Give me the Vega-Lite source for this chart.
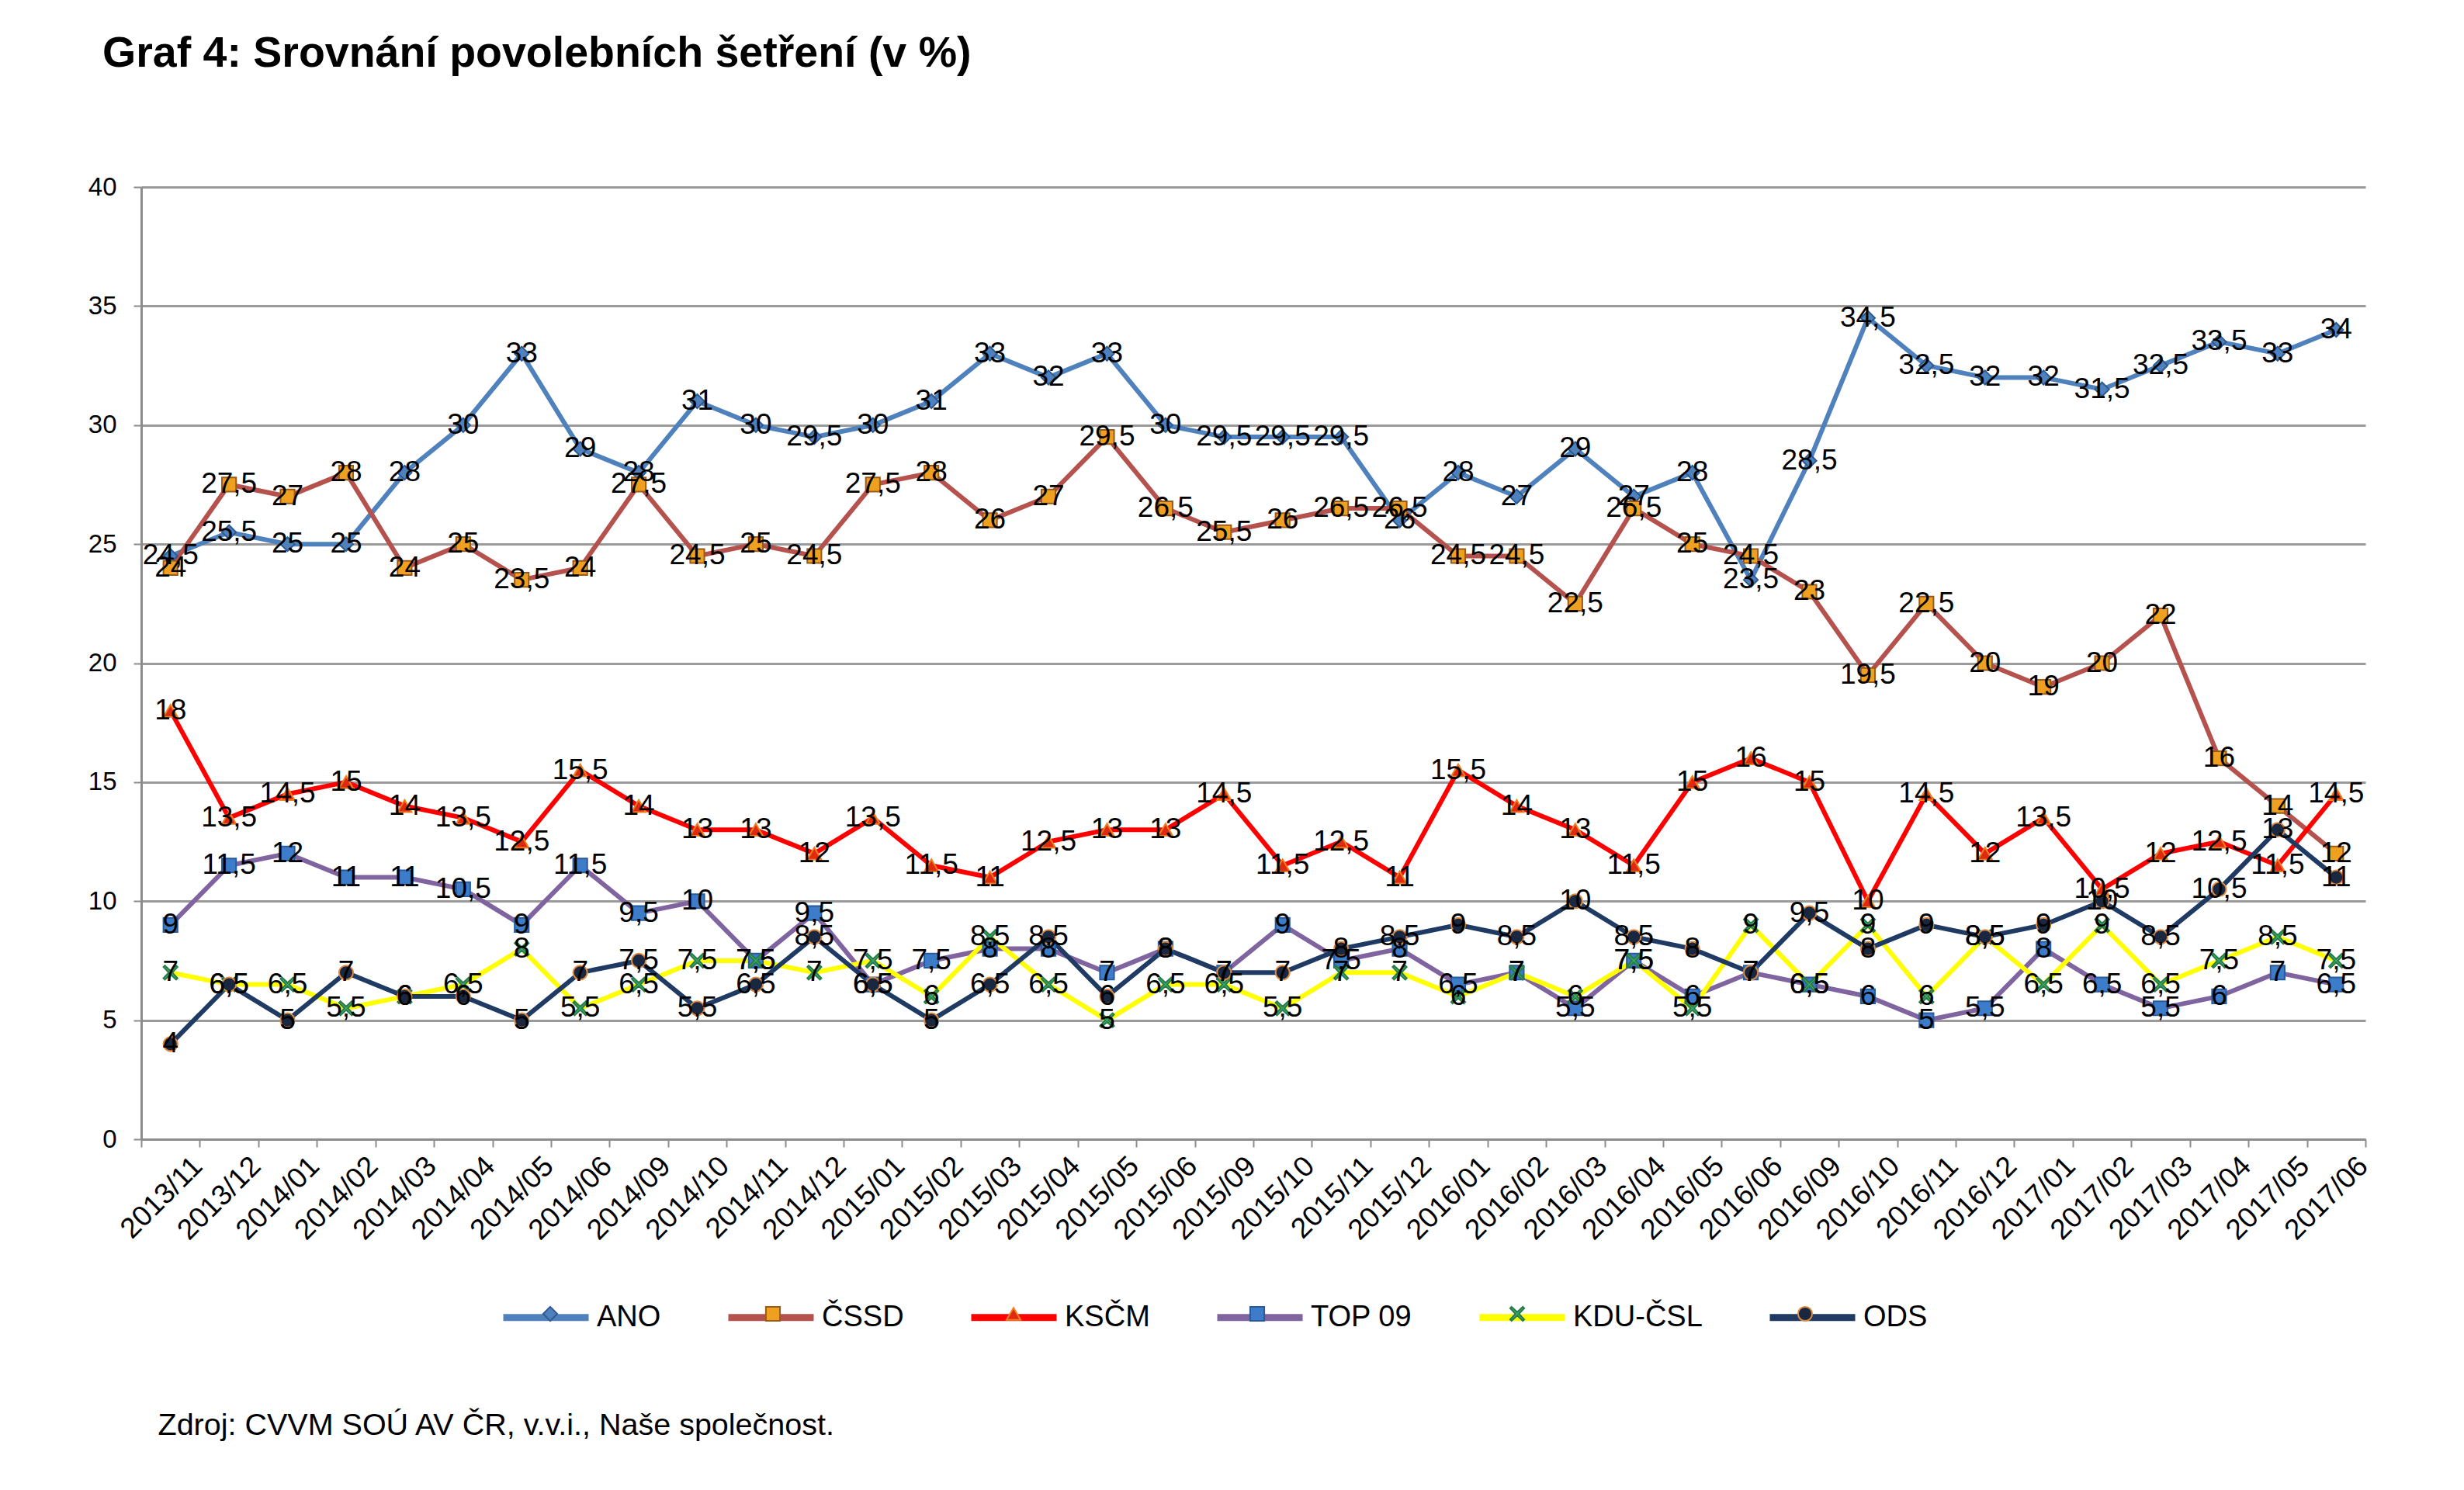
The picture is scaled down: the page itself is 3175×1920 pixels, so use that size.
{
  "$schema": "https://vega.github.io/schema/vega-lite/v6.json",
  "autosize": {"type": "none"},
  "width": 2866,
  "height": 1227,
  "padding": {"left": 182, "top": 241, "right": 127, "bottom": 452},
  "background": "white",
  "title": {
    "text": "Graf 4: Srovnání povolebních šetření (v %)",
    "anchor": "start",
    "frame": "group",
    "dx": -50,
    "offset": 128,
    "fontSize": 55.5,
    "fontWeight": "bold",
    "font": "Liberation Sans",
    "color": "#000000"
  },
  "config": {
    "font": "Liberation Sans",
    "locale": {"number": {"decimal": ",", "thousands": " ", "grouping": [3], "currency": ["", " Kč"]}},
    "view": {"stroke": null}
  },
  "data": {"values": [
    {"d":"2013/11","p":"ANO","v":24.5},{"d":"2013/12","p":"ANO","v":25.5},{"d":"2014/01","p":"ANO","v":25},{"d":"2014/02","p":"ANO","v":25},{"d":"2014/03","p":"ANO","v":28},{"d":"2014/04","p":"ANO","v":30},{"d":"2014/05","p":"ANO","v":33},{"d":"2014/06","p":"ANO","v":29},{"d":"2014/09","p":"ANO","v":28},{"d":"2014/10","p":"ANO","v":31},{"d":"2014/11","p":"ANO","v":30},{"d":"2014/12","p":"ANO","v":29.5},{"d":"2015/01","p":"ANO","v":30},{"d":"2015/02","p":"ANO","v":31},{"d":"2015/03","p":"ANO","v":33},{"d":"2015/04","p":"ANO","v":32},{"d":"2015/05","p":"ANO","v":33},{"d":"2015/06","p":"ANO","v":30},{"d":"2015/09","p":"ANO","v":29.5},{"d":"2015/10","p":"ANO","v":29.5},{"d":"2015/11","p":"ANO","v":29.5},{"d":"2015/12","p":"ANO","v":26},{"d":"2016/01","p":"ANO","v":28},{"d":"2016/02","p":"ANO","v":27},{"d":"2016/03","p":"ANO","v":29},{"d":"2016/04","p":"ANO","v":27},{"d":"2016/05","p":"ANO","v":28},{"d":"2016/06","p":"ANO","v":23.5},{"d":"2016/09","p":"ANO","v":28.5},{"d":"2016/10","p":"ANO","v":34.5},{"d":"2016/11","p":"ANO","v":32.5},{"d":"2016/12","p":"ANO","v":32},{"d":"2017/01","p":"ANO","v":32},{"d":"2017/02","p":"ANO","v":31.5},{"d":"2017/03","p":"ANO","v":32.5},{"d":"2017/04","p":"ANO","v":33.5},{"d":"2017/05","p":"ANO","v":33},{"d":"2017/06","p":"ANO","v":34},
    {"d":"2013/11","p":"ČSSD","v":24},{"d":"2013/12","p":"ČSSD","v":27.5},{"d":"2014/01","p":"ČSSD","v":27},{"d":"2014/02","p":"ČSSD","v":28},{"d":"2014/03","p":"ČSSD","v":24},{"d":"2014/04","p":"ČSSD","v":25},{"d":"2014/05","p":"ČSSD","v":23.5},{"d":"2014/06","p":"ČSSD","v":24},{"d":"2014/09","p":"ČSSD","v":27.5},{"d":"2014/10","p":"ČSSD","v":24.5},{"d":"2014/11","p":"ČSSD","v":25},{"d":"2014/12","p":"ČSSD","v":24.5},{"d":"2015/01","p":"ČSSD","v":27.5},{"d":"2015/02","p":"ČSSD","v":28},{"d":"2015/03","p":"ČSSD","v":26},{"d":"2015/04","p":"ČSSD","v":27},{"d":"2015/05","p":"ČSSD","v":29.5},{"d":"2015/06","p":"ČSSD","v":26.5},{"d":"2015/09","p":"ČSSD","v":25.5},{"d":"2015/10","p":"ČSSD","v":26},{"d":"2015/11","p":"ČSSD","v":26.5},{"d":"2015/12","p":"ČSSD","v":26.5},{"d":"2016/01","p":"ČSSD","v":24.5},{"d":"2016/02","p":"ČSSD","v":24.5},{"d":"2016/03","p":"ČSSD","v":22.5},{"d":"2016/04","p":"ČSSD","v":26.5},{"d":"2016/05","p":"ČSSD","v":25},{"d":"2016/06","p":"ČSSD","v":24.5},{"d":"2016/09","p":"ČSSD","v":23},{"d":"2016/10","p":"ČSSD","v":19.5},{"d":"2016/11","p":"ČSSD","v":22.5},{"d":"2016/12","p":"ČSSD","v":20},{"d":"2017/01","p":"ČSSD","v":19},{"d":"2017/02","p":"ČSSD","v":20},{"d":"2017/03","p":"ČSSD","v":22},{"d":"2017/04","p":"ČSSD","v":16},{"d":"2017/05","p":"ČSSD","v":14},{"d":"2017/06","p":"ČSSD","v":12},
    {"d":"2013/11","p":"KSČM","v":18},{"d":"2013/12","p":"KSČM","v":13.5},{"d":"2014/01","p":"KSČM","v":14.5},{"d":"2014/02","p":"KSČM","v":15},{"d":"2014/03","p":"KSČM","v":14},{"d":"2014/04","p":"KSČM","v":13.5},{"d":"2014/05","p":"KSČM","v":12.5},{"d":"2014/06","p":"KSČM","v":15.5},{"d":"2014/09","p":"KSČM","v":14},{"d":"2014/10","p":"KSČM","v":13},{"d":"2014/11","p":"KSČM","v":13},{"d":"2014/12","p":"KSČM","v":12},{"d":"2015/01","p":"KSČM","v":13.5},{"d":"2015/02","p":"KSČM","v":11.5},{"d":"2015/03","p":"KSČM","v":11},{"d":"2015/04","p":"KSČM","v":12.5},{"d":"2015/05","p":"KSČM","v":13},{"d":"2015/06","p":"KSČM","v":13},{"d":"2015/09","p":"KSČM","v":14.5},{"d":"2015/10","p":"KSČM","v":11.5},{"d":"2015/11","p":"KSČM","v":12.5},{"d":"2015/12","p":"KSČM","v":11},{"d":"2016/01","p":"KSČM","v":15.5},{"d":"2016/02","p":"KSČM","v":14},{"d":"2016/03","p":"KSČM","v":13},{"d":"2016/04","p":"KSČM","v":11.5},{"d":"2016/05","p":"KSČM","v":15},{"d":"2016/06","p":"KSČM","v":16},{"d":"2016/09","p":"KSČM","v":15},{"d":"2016/10","p":"KSČM","v":10},{"d":"2016/11","p":"KSČM","v":14.5},{"d":"2016/12","p":"KSČM","v":12},{"d":"2017/01","p":"KSČM","v":13.5},{"d":"2017/02","p":"KSČM","v":10.5},{"d":"2017/03","p":"KSČM","v":12},{"d":"2017/04","p":"KSČM","v":12.5},{"d":"2017/05","p":"KSČM","v":11.5},{"d":"2017/06","p":"KSČM","v":14.5},
    {"d":"2013/11","p":"TOP 09","v":9},{"d":"2013/12","p":"TOP 09","v":11.5},{"d":"2014/01","p":"TOP 09","v":12},{"d":"2014/02","p":"TOP 09","v":11},{"d":"2014/03","p":"TOP 09","v":11},{"d":"2014/04","p":"TOP 09","v":10.5},{"d":"2014/05","p":"TOP 09","v":9},{"d":"2014/06","p":"TOP 09","v":11.5},{"d":"2014/09","p":"TOP 09","v":9.5},{"d":"2014/10","p":"TOP 09","v":10},{"d":"2014/11","p":"TOP 09","v":7.5},{"d":"2014/12","p":"TOP 09","v":9.5},{"d":"2015/01","p":"TOP 09","v":6.5},{"d":"2015/02","p":"TOP 09","v":7.5},{"d":"2015/03","p":"TOP 09","v":8},{"d":"2015/04","p":"TOP 09","v":8},{"d":"2015/05","p":"TOP 09","v":7},{"d":"2015/06","p":"TOP 09","v":8},{"d":"2015/09","p":"TOP 09","v":7},{"d":"2015/10","p":"TOP 09","v":9},{"d":"2015/11","p":"TOP 09","v":7.5},{"d":"2015/12","p":"TOP 09","v":8},{"d":"2016/01","p":"TOP 09","v":6.5},{"d":"2016/02","p":"TOP 09","v":7},{"d":"2016/03","p":"TOP 09","v":5.5},{"d":"2016/04","p":"TOP 09","v":7.5},{"d":"2016/05","p":"TOP 09","v":6},{"d":"2016/06","p":"TOP 09","v":7},{"d":"2016/09","p":"TOP 09","v":6.5},{"d":"2016/10","p":"TOP 09","v":6},{"d":"2016/11","p":"TOP 09","v":5},{"d":"2016/12","p":"TOP 09","v":5.5},{"d":"2017/01","p":"TOP 09","v":8},{"d":"2017/02","p":"TOP 09","v":6.5},{"d":"2017/03","p":"TOP 09","v":5.5},{"d":"2017/04","p":"TOP 09","v":6},{"d":"2017/05","p":"TOP 09","v":7},{"d":"2017/06","p":"TOP 09","v":6.5},
    {"d":"2013/11","p":"KDU-ČSL","v":7},{"d":"2013/12","p":"KDU-ČSL","v":6.5},{"d":"2014/01","p":"KDU-ČSL","v":6.5},{"d":"2014/02","p":"KDU-ČSL","v":5.5},{"d":"2014/03","p":"KDU-ČSL","v":6},{"d":"2014/04","p":"KDU-ČSL","v":6.5},{"d":"2014/05","p":"KDU-ČSL","v":8},{"d":"2014/06","p":"KDU-ČSL","v":5.5},{"d":"2014/09","p":"KDU-ČSL","v":6.5},{"d":"2014/10","p":"KDU-ČSL","v":7.5},{"d":"2014/11","p":"KDU-ČSL","v":7.5},{"d":"2014/12","p":"KDU-ČSL","v":7},{"d":"2015/01","p":"KDU-ČSL","v":7.5},{"d":"2015/02","p":"KDU-ČSL","v":6},{"d":"2015/03","p":"KDU-ČSL","v":8.5},{"d":"2015/04","p":"KDU-ČSL","v":6.5},{"d":"2015/05","p":"KDU-ČSL","v":5},{"d":"2015/06","p":"KDU-ČSL","v":6.5},{"d":"2015/09","p":"KDU-ČSL","v":6.5},{"d":"2015/10","p":"KDU-ČSL","v":5.5},{"d":"2015/11","p":"KDU-ČSL","v":7},{"d":"2015/12","p":"KDU-ČSL","v":7},{"d":"2016/01","p":"KDU-ČSL","v":6},{"d":"2016/02","p":"KDU-ČSL","v":7},{"d":"2016/03","p":"KDU-ČSL","v":6},{"d":"2016/04","p":"KDU-ČSL","v":7.5},{"d":"2016/05","p":"KDU-ČSL","v":5.5},{"d":"2016/06","p":"KDU-ČSL","v":9},{"d":"2016/09","p":"KDU-ČSL","v":6.5},{"d":"2016/10","p":"KDU-ČSL","v":9},{"d":"2016/11","p":"KDU-ČSL","v":6},{"d":"2016/12","p":"KDU-ČSL","v":8.5},{"d":"2017/01","p":"KDU-ČSL","v":6.5},{"d":"2017/02","p":"KDU-ČSL","v":9},{"d":"2017/03","p":"KDU-ČSL","v":6.5},{"d":"2017/04","p":"KDU-ČSL","v":7.5},{"d":"2017/05","p":"KDU-ČSL","v":8.5},{"d":"2017/06","p":"KDU-ČSL","v":7.5},
    {"d":"2013/11","p":"ODS","v":4},{"d":"2013/12","p":"ODS","v":6.5},{"d":"2014/01","p":"ODS","v":5},{"d":"2014/02","p":"ODS","v":7},{"d":"2014/03","p":"ODS","v":6},{"d":"2014/04","p":"ODS","v":6},{"d":"2014/05","p":"ODS","v":5},{"d":"2014/06","p":"ODS","v":7},{"d":"2014/09","p":"ODS","v":7.5},{"d":"2014/10","p":"ODS","v":5.5},{"d":"2014/11","p":"ODS","v":6.5},{"d":"2014/12","p":"ODS","v":8.5},{"d":"2015/01","p":"ODS","v":6.5},{"d":"2015/02","p":"ODS","v":5},{"d":"2015/03","p":"ODS","v":6.5},{"d":"2015/04","p":"ODS","v":8.5},{"d":"2015/05","p":"ODS","v":6},{"d":"2015/06","p":"ODS","v":8},{"d":"2015/09","p":"ODS","v":7},{"d":"2015/10","p":"ODS","v":7},{"d":"2015/11","p":"ODS","v":8},{"d":"2015/12","p":"ODS","v":8.5},{"d":"2016/01","p":"ODS","v":9},{"d":"2016/02","p":"ODS","v":8.5},{"d":"2016/03","p":"ODS","v":10},{"d":"2016/04","p":"ODS","v":8.5},{"d":"2016/05","p":"ODS","v":8},{"d":"2016/06","p":"ODS","v":7},{"d":"2016/09","p":"ODS","v":9.5},{"d":"2016/10","p":"ODS","v":8},{"d":"2016/11","p":"ODS","v":9},{"d":"2016/12","p":"ODS","v":8.5},{"d":"2017/01","p":"ODS","v":9},{"d":"2017/02","p":"ODS","v":10},{"d":"2017/03","p":"ODS","v":8.5},{"d":"2017/04","p":"ODS","v":10.5},{"d":"2017/05","p":"ODS","v":13},{"d":"2017/06","p":"ODS","v":11}
  ]},
  "encoding": {
    "x": {
      "field": "d", "type": "ordinal", "sort": null, "bandPosition": 0.5,
      "scale": {"type": "band", "paddingInner": 0, "paddingOuter": 0},
      "axis": {
        "title": "Zdroj: CVVM SOÚ AV ČR, v.v.i., Naše společnost.",
        "titleX": 21, "titleY": 380, "titleAlign": "left", "titleAnchor": null,
        "titleBaseline": "alphabetic", "titleFontSize": 39.5, "titleFontWeight": "normal", "titleColor": "#000000",
        "labelAngle": -45, "labelFontSize": 37, "labelColor": "#000000", "labelPadding": 6, "labelOffset": 22,
        "tickBand": "extent", "tickSize": 10, "tickColor": "#8c8c8c", "tickWidth": 2,
        "domainColor": "#8c8c8c", "domainWidth": 3, "grid": false
      }
    },
    "y": {
      "field": "v", "type": "quantitative",
      "scale": {"domain": [0, 40], "nice": false, "zero": true},
      "axis": {
        "title": null, "values": [0, 5, 10, 15, 20, 25, 30, 35, 40],
        "labelFontSize": 33, "labelColor": "#000000", "labelPadding": 22,
        "tickSize": 10, "tickColor": "#8c8c8c", "tickWidth": 2,
        "domainColor": "#8c8c8c", "domainWidth": 3,
        "grid": true, "gridColor": "#9a9a9a", "gridWidth": 3
      }
    }
  },
  "layer": [
    {
      "mark": {"type": "line", "strokeWidth": 6, "strokeJoin": "miter"},
      "encoding": {
        "color": {
          "field": "p", "type": "nominal",
          "scale": {
            "domain": ["ANO", "ČSSD", "KSČM", "TOP 09", "KDU-ČSL", "ODS"],
            "range": ["#4F81BD", "#B5524E", "#FF0000", "#7F64A0", "#FFFF00", "#1F3A63"]
          },
          "legend": {
            "orient": "none", "legendX": 462, "legendY": 1397,
            "direction": "horizontal", "title": null,
            "symbolType": "stroke", "symbolSize": 12100, "symbolStrokeWidth": 9,
            "labelFontSize": 38, "labelColor": "#000000", "labelOffset": 6, "labelLimit": 500,
            "columnPadding": 68
          }
        }
      }
    },
    {
      "mark": {"type": "point", "filled": true, "size": 330, "opacity": 1, "strokeWidth": 2},
      "encoding": {
        "shape": {
          "field": "p", "type": "nominal",
          "scale": {
            "domain": ["ANO", "ČSSD", "KSČM", "TOP 09", "KDU-ČSL", "ODS", "-"],
            "range": ["diamond", "square", "triangle-up", "square", "M-0.8,-1L0,-0.25L0.8,-1L1,-0.8L0.25,0L1,0.8L0.8,1L0,0.25L-0.8,1L-1,0.8L-0.25,0L-1,-0.8Z", "circle", "circle"]
          },
          "legend": {
            "orient": "none", "legendX": 508, "legendY": 1433,
            "direction": "horizontal", "title": null,
            "values": ["ANO", "ČSSD", "KSČM", "TOP 09", "KDU-ČSL", "ODS"],
            "symbolSize": 330, "symbolStrokeWidth": 2,
            "labelFontSize": 38, "labelOpacity": 0, "labelOffset": 52, "labelLimit": 500,
            "columnPadding": 114
          }
        },
        "fill": {
          "field": "p", "type": "nominal",
          "scale": {
            "domain": ["ANO", "ČSSD", "KSČM", "TOP 09", "KDU-ČSL", "ODS", "-"],
            "range": ["#4F81BD", "#F0A020", "#E02A10", "#3D7CC9", "#3AAE6A", "#1A2740", "#ffffff"]
          },
          "legend": {
            "orient": "none", "legendX": 508, "legendY": 1433,
            "direction": "horizontal", "title": null,
            "values": ["ANO", "ČSSD", "KSČM", "TOP 09", "KDU-ČSL", "ODS"],
            "symbolSize": 330, "symbolStrokeWidth": 2,
            "labelFontSize": 38, "labelOpacity": 0, "labelOffset": 52, "labelLimit": 500,
            "columnPadding": 114
          }
        },
        "stroke": {
          "field": "p", "type": "nominal",
          "scale": {
            "domain": ["ANO", "ČSSD", "KSČM", "TOP 09", "KDU-ČSL", "ODS", "-"],
            "range": ["#2E5A8F", "#9A5A1A", "#F08020", "#2A5A99", "#2A7A4A", "#E08A40", "#ffffff"]
          },
          "legend": {
            "orient": "none", "legendX": 508, "legendY": 1433,
            "direction": "horizontal", "title": null,
            "values": ["ANO", "ČSSD", "KSČM", "TOP 09", "KDU-ČSL", "ODS"],
            "symbolSize": 330, "symbolStrokeWidth": 2,
            "labelFontSize": 38, "labelOpacity": 0, "labelOffset": 52, "labelLimit": 500,
            "columnPadding": 114
          }
        }
      }
    },
    {
      "mark": {"type": "text", "fontSize": 37, "color": "#000000", "align": "center", "baseline": "middle"},
      "encoding": {
        "text": {"field": "v", "type": "quantitative", "format": ".1~f"}
      }
    }
  ]
}
